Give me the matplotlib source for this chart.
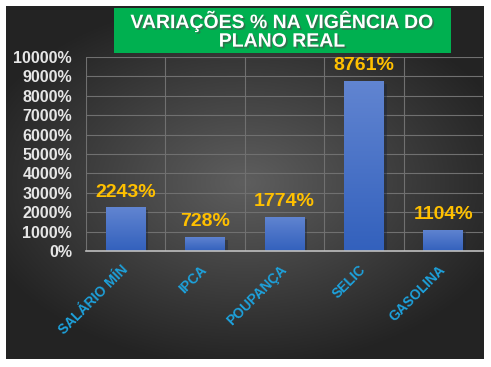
import numpy as np
import matplotlib
matplotlib.use("Agg")
import matplotlib.pyplot as plt
import matplotlib.patheffects as pe
from matplotlib.patches import Rectangle

plt.rcParams['font.family'] = ['Liberation Sans', 'DejaVu Sans']

# dados
categorias = ['SALÁRIO MÍN', 'IPCA', 'POUPANÇA', 'SELIC', 'GASOLINA']
valores = [2243, 728, 1774, 8761, 1104]
titulo = 'VARIAÇÕES % NA VIGÊNCIA DO\nPLANO REAL'

fig = plt.figure(figsize=(4.91, 3.67), dpi=100)
fig.patch.set_facecolor('white')

# fundo escuro com gradiente radial
bg = fig.add_axes([6 / 491, 1 - 359 / 367, 478 / 491, 353 / 367])
bg.set_axis_off()
yy, xx = np.mgrid[-1:1:200j, -1:1:270j]
r = np.sqrt((xx * 0.9) ** 2 + (yy * 1.0) ** 2)
g = np.clip(0.37 - 0.22 * r, 0.14, 0.37)
bg.imshow(np.dstack([g, g, g]), aspect='auto', extent=[0, 1, 0, 1])

ax = fig.add_axes([86 / 491, 1 - 251 / 367, 397 / 491, 194 / 367])
ax.set_facecolor('none')

x = np.arange(len(categorias))
barras = ax.bar(x, valores, width=0.5, color='#4472C4', zorder=3,
                path_effects=[pe.SimplePatchShadow(offset=(2, -2), alpha=0.4), pe.Normal()])

# gradiente nas barras
grad = np.linspace(0, 1, 100).reshape(-1, 1)
top = np.array([0.38, 0.52, 0.82])
bot = np.array([0.20, 0.38, 0.74])
img = top * grad[..., None] + bot * (1 - grad[..., None])
for b in barras:
    im = ax.imshow(img, extent=[b.get_x(), b.get_x() + b.get_width(), 0, b.get_height()],
                   aspect='auto', origin='lower', zorder=4)
    im.set_clip_path(b)

for xi, v in zip(x, valores):
    ax.text(xi, v + 350, f'{v}%', ha='center', va='bottom', color='#FFC000',
            fontsize=14, fontweight='bold', zorder=5)

ax.set_xlim(-0.5, len(categorias) - 0.5)
ax.set_ylim(0, 10000)
ax.set_yticks(np.arange(0, 10001, 1000))
ax.set_yticklabels([f'{t}%' for t in range(0, 10001, 1000)], color='#E6E6E6',
                   fontsize=11.5, fontweight='bold')
ax.set_xticks(x)
ax.set_xticklabels(categorias, rotation=45, ha='right', va='center',
                   rotation_mode='anchor', color='#1DA2DD', fontsize=10, fontweight='bold')
ax.tick_params(axis='x', length=0, pad=12)
ax.tick_params(axis='y', length=0, pad=10)

# grade
ax.set_xticks(np.arange(-0.5, len(categorias), 1), minor=True)
ax.grid(True, axis='y', color='#707070', linewidth=0.8, zorder=0)
ax.grid(True, axis='x', which='minor', color='#707070', linewidth=0.8, zorder=0)
ax.grid(False, axis='x', which='major')
ax.tick_params(axis='x', which='minor', length=0)
for s in ['top', 'right', 'left']:
    ax.spines[s].set_visible(False)
ax.spines['bottom'].set_color('#BFBFBF')
ax.spines['bottom'].set_linewidth(1.2)
ax.spines['bottom'].set_zorder(6)

# caixa do título
fig.patches.append(Rectangle((114 / 491, 1 - 53 / 367), 337 / 491, 45 / 367,
                             transform=fig.transFigure, facecolor='#00B050',
                             edgecolor='none', zorder=2))
fig.text(282 / 491, 1 - 31 / 367, titulo, ha='center', va='center', color='white',
         fontsize=14, fontweight='bold', linespacing=1.12, zorder=3,
         path_effects=[pe.withSimplePatchShadow(offset=(1.2, -1.2), alpha=0.6)])

fig.savefig('out.png', dpi=100, facecolor=fig.get_facecolor())
